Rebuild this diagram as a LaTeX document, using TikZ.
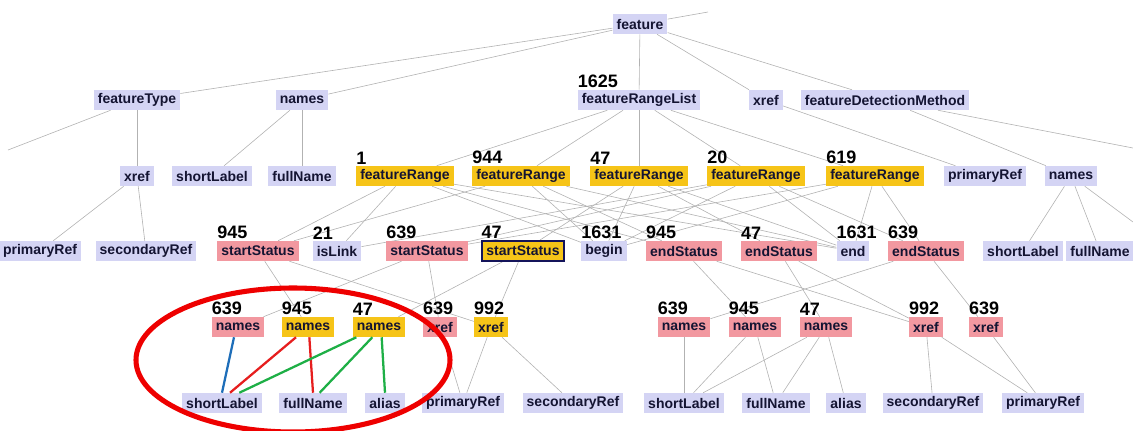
\documentclass[tikz,border=0pt]{standalone}
\usepackage{fontspec}
\setmainfont{Liberation Sans}
\usetikzlibrary{backgrounds}
\definecolor{lavc}{RGB}{212,212,244}
\definecolor{goldc}{RGB}{246,196,24}
\definecolor{pinkc}{RGB}{242,152,160}
\definecolor{edgec}{RGB}{178,178,178}
\definecolor{txtc}{RGB}{20,20,50}
\definecolor{navyc}{RGB}{20,20,90}
\definecolor{bluec}{RGB}{30,110,185}
\definecolor{redc}{RGB}{230,30,30}
\definecolor{greenc}{RGB}{30,175,70}
\definecolor{ellc}{RGB}{238,0,0}
\tikzset{
  box/.style={font=\bfseries\fontsize{10.5}{12}\selectfont, text=txtc, inner xsep=3pt, inner ysep=0pt, minimum height=15pt},
  lav/.style={box, fill=lavc},
  gld/.style={box, fill=goldc},
  pnk/.style={box, fill=pinkc},
  cnt/.style={font=\bfseries\fontsize{13.5}{14}\selectfont, text=black, inner sep=0pt, anchor=south west, yshift=1pt},
  ed/.style={draw=edgec, line width=0.45pt},
  hl/.style={line width=1.7pt}
}
\begin{document}
\begin{tikzpicture}[x=0.75pt,y=-0.75pt]
\useasboundingbox (0,0) rectangle (1133,430);
\clip (0,0) rectangle (1133,430);
% row 0
\node[lav] (feat) at (640,24) {feature};
% row 1
\node[lav] (fType) at (137,100) {featureType};
\node[lav] (nm1) at (302,100) {names};
\node[lav] (frl) at (639,100) {featureRangeList};
\node[lav] (xr1) at (766,100) {xref};
\node[lav] (fdm) at (885,100) {featureDetectionMethod};
% row 2
\node[lav] (xr2) at (137,176) {xref};
\node[lav] (sl1) at (212,176) {shortLabel};
\node[lav] (fn1) at (302,176) {fullName};
\node[gld] (fr1) at (405,176) {featureRange};
\node[gld] (fr944) at (521,176) {featureRange};
\node[gld] (fr47) at (639,176) {featureRange};
\node[gld] (fr20) at (756,176) {featureRange};
\node[gld] (fr619) at (875,176) {featureRange};
\node[lav] (pr1) at (985,176) {primaryRef};
\node[lav] (nm2) at (1071,176) {names};
% row 3
\node[lav] (pr0) at (40,251) {primaryRef};
\node[lav] (sd0) at (146,251) {secondaryRef};
\node[pnk] (ss945) at (258,251) {startStatus};
\node[lav] (isl) at (337,251) {isLink};
\node[pnk] (ss639) at (427,251) {startStatus};
\node[gld, draw=navyc, line width=1.5pt] (ss47) at (523,251) {startStatus};
\node[lav] (beg) at (604,251) {begin};
\node[pnk] (es945) at (684,251) {endStatus};
\node[pnk] (es47) at (779,251) {endStatus};
\node[lav] (endn) at (853,251) {end};
\node[pnk] (es639) at (926,251) {endStatus};
\node[lav] (sl2) at (1023,251) {shortLabel};
\node[lav] (fn2) at (1100,251) {fullName};
% row 4
\node[pnk] (n639a) at (238,327) {names};
\node[gld] (n945a) at (308,327) {names};
\node[gld] (n47a) at (379,327) {names};
\node[pnk] (x639a) at (440,327) {xref};
\node[gld] (x992a) at (491,327) {xref};
\node[pnk] (n639b) at (684,327) {names};
\node[pnk] (n945b) at (755,327) {names};
\node[pnk] (n47b) at (826,327) {names};
\node[pnk] (x992b) at (926,327) {xref};
\node[pnk] (x639b) at (986,327) {xref};
% row 5
\node[lav] (sl3) at (222,403) {shortLabel};
\node[lav] (fn3) at (313,403) {fullName};
\node[lav] (al1) at (385,403) {alias};
\node[lav] (pr3) at (463,403) {primaryRef};
\node[lav] (sd3) at (573,403) {secondaryRef};
\node[lav] (sl4) at (684,403) {shortLabel};
\node[lav] (fn4) at (776,403) {fullName};
\node[lav] (al2) at (846,403) {alias};
\node[lav] (sd4) at (933,403) {secondaryRef};
\node[lav] (pr4) at (1043,403) {primaryRef};
% counts
\node[cnt] (c1625) at (frl.north west) {1625};
\node[cnt] (c1) at (fr1.north west) {1};
\node[cnt] (c944) at (fr944.north west) {944};
\node[cnt] (c47) at (fr47.north west) {47};
\node[cnt] (c20) at (fr20.north west) {20};
\node[cnt] (c619) at (fr619.north west) {619};
\node[cnt] (k945) at (ss945.north west) {945};
\node[cnt] (k21) at (isl.north west) {21};
\node[cnt] (k639) at (ss639.north west) {639};
\node[cnt] (k47) at (ss47.north west) {47};
\node[cnt] (k1631a) at (beg.north west) {1631};
\node[cnt] (k945e) at (es945.north west) {945};
\node[cnt] (k47e) at (es47.north west) {47};
\node[cnt] (k1631b) at (endn.north west) {1631};
\node[cnt] (k639e) at (es639.north west) {639};
\node[cnt] (m639a) at (n639a.north west) {639};
\node[cnt] (m945a) at (n945a.north west) {945};
\node[cnt] (m47a) at (n47a.north west) {47};
\node[cnt] (m639x) at (x639a.north west) {639};
\node[cnt] (m992x) at (x992a.north west) {992};
\node[cnt] (m639b) at (n639b.north west) {639};
\node[cnt] (m945b) at (n945b.north west) {945};
\node[cnt] (m47b) at (n47b.north west) {47};
\node[cnt] (m992y) at (x992b.north west) {992};
\node[cnt] (m639y) at (x639b.north west) {639};
% off-picture ends
\coordinate (offA) at (708,12);
\coordinate (offB) at (8,150);
\coordinate (offC) at (1133,148);
\coordinate (offD) at (1133,222);
\begin{pgfonlayer}{background}
\draw[ed] (feat) -- (offA);
\draw[ed] (feat) -- (fType);
\draw[ed] (feat) -- (nm1);
\draw[ed] (feat) -- (frl);
\draw[ed] (feat) -- (xr1);
\draw[ed] (feat) -- (fdm);
\draw[ed] (fType) -- (offB);
\draw[ed] (fType) -- (xr2);
\draw[ed] (nm1) -- (sl1);
\draw[ed] (nm1) -- (fn1);
\draw[ed] (frl) -- (fr1);
\draw[ed] (frl) -- (fr944);
\draw[ed] (frl) -- (fr47);
\draw[ed] (frl) -- (fr20);
\draw[ed] (frl) -- (fr619);
\draw[ed] (xr1) -- (pr1);
\draw[ed] (fdm) -- (nm2);
\draw[ed] (fdm) -- (offC);
\draw[ed] (xr2) -- (pr0);
\draw[ed] (xr2) -- (sd0);
\draw[ed] (nm2) -- (sl2);
\draw[ed] (nm2) -- (fn2);
\draw[ed] (nm2) -- (offD);
% featureRange children
\foreach \a/\b in {fr1/ss945, fr1/isl, fr1/beg, fr1/endn, fr1/es945,
  fr944/ss945, fr944/beg, fr944/endn, fr944/es945,
  fr47/ss47, fr47/beg, fr47/endn, fr47/es47,
  fr20/ss639, fr20/isl, fr20/beg, fr20/endn, fr20/es639,
  fr619/ss639, fr619/beg, fr619/endn, fr619/es639}
  {\draw[ed] (\a) -- (\b);}
% status children
\foreach \a/\b in {ss945/n945a, ss945/x992a, ss47/n47a, ss47/x992a, ss639/n639a, ss639/x639a,
  es945/n945b, es945/x992b, es47/n47b, es47/x992b, es639/n639b, es639/x639b}
  {\draw[ed] (\a) -- (\b);}
% leaves
\foreach \a/\b in {x639a/pr3, x992a/pr3, x992a/sd3,
  n639b/sl4, n945b/sl4, n945b/fn4, n47b/sl4, n47b/fn4, n47b/al2,
  x992b/sd4, x992b/pr4, x639b/pr4}
  {\draw[ed] (\a) -- (\b);}
\end{pgfonlayer}
% coloured edges
\draw[hl, bluec] ([xshift=-3pt]n639a.south) -- ([xshift=0pt]sl3.north);
\draw[hl, redc] ([xshift=-9pt]n945a.south) -- ([xshift=6pt]sl3.north);
\draw[hl, redc] ([xshift=1pt]n945a.south) -- (fn3.north);
\draw[hl, greenc] ([xshift=-17pt]n47a.south) -- ([xshift=13pt]sl3.north);
\draw[hl, greenc] ([xshift=-5pt]n47a.south) -- ([xshift=5pt]fn3.north);
\draw[hl, greenc] ([xshift=2pt]n47a.south) -- (al1.north);
% ellipse
\draw[ellc, line width=3.8pt] (293,360) ellipse [x radius=117.75pt, y radius=54pt];
\end{tikzpicture}
\end{document}
